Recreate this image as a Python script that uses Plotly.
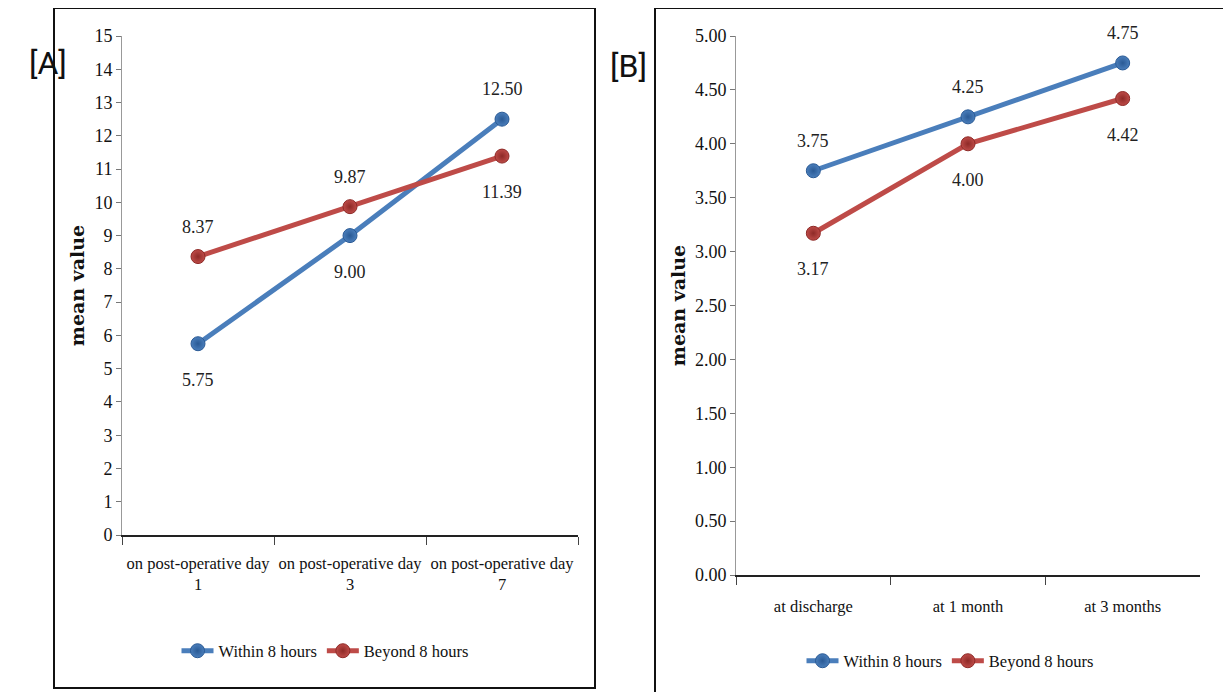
import plotly.graph_objects as go

# ---- data ----
cats_a = ["on post-operative day<br>1", "on post-operative day<br>3", "on post-operative day<br>7"]
within_a = [5.75, 9.00, 12.50]
beyond_a = [8.37, 9.87, 11.39]

cats_b = ["at discharge", "at 1 month", "at 3 months"]
within_b = [3.75, 4.25, 4.75]
beyond_b = [3.17, 4.00, 4.42]

series_names = ["Within 8 hours", "Beyond 8 hours"]
yticks_a = list(range(0, 16))
yticks_b = [0, 0.5, 1.0, 1.5, 2.0, 2.5, 3.0, 3.5, 4.0, 4.5, 5.0]

# label placement: +1 above the point, -1 below
lab_within_a = [-1, -1, 1]
lab_beyond_a = [1, 1, -1]
lab_within_b = [1, 1, 1]
lab_beyond_b = [-1, -1, -1]

# ---- style ----
W, H = 1231, 692
OX, OY = 8, 8   # page (body) margin of the html page
BLUE = "#4a7ebb"
RED = "#be4b48"
FONT = "Liberation Serif, serif"

def px(x):
    return (x - OX) / W

def py(y):
    return 1 - (y - OY) / H

fig = go.Figure()
annotations = []

def add_series(x, y, name, color, dark, xa, ya, legend, where):
    fig.add_trace(go.Scatter(
        x=x, y=y, name=name, mode="lines+markers",
        line=dict(color=color, width=5),
        marker=dict(size=14, color=color, symbol="circle",
                    line=dict(color=dark, width=1),
                    gradient=dict(type="radial", color=dark)),
        xaxis=xa, yaxis=ya, legend=legend, cliponaxis=False,
    ))
    for xi, yi, w in zip(x, y, where):
        annotations.append(dict(
            x=xi, y=yi, xref=xa, yref=ya, text=f"{yi:.2f}", showarrow=False,
            yshift=30 if w > 0 else -36,
            font=dict(family=FONT, size=18, color="#222")))

add_series(cats_a, within_a, series_names[0], BLUE, "#2a5a95", "x", "y", "legend", lab_within_a)
add_series(cats_a, beyond_a, series_names[1], RED, "#8e2a27", "x", "y", "legend", lab_beyond_a)
add_series(cats_b, within_b, series_names[0], BLUE, "#2a5a95", "x2", "y2", "legend2", lab_within_b)
add_series(cats_b, beyond_b, series_names[1], RED, "#8e2a27", "x2", "y2", "legend2", lab_beyond_b)

xcommon = dict(type="category", tickson="boundaries", ticks="outside", ticklen=8,
               tickcolor="#444", showline=True, linecolor="#222", linewidth=1.5,
               showgrid=False, zeroline=False, automargin=False,
               range=[-0.5, 2.5], tickangle=0,
               tickfont=dict(family=FONT, size=16.5, color="#111"))
ycommon = dict(ticks="outside", ticklen=5, tickcolor="#777", showline=True,
               linecolor="#999", linewidth=1, showgrid=False, zeroline=False,
               automargin=False,
               tickfont=dict(family=FONT, size=18, color="#111"),
               title=dict(text="<b>mean value</b>", standoff=4,
                          font=dict(family="DejaVu Serif, serif", size=19, color="#111")))

annotations += [
    dict(text="[A]", xref="paper", yref="paper", x=px(27), y=py(42),
         showarrow=False,
         font=dict(family="Liberation Sans Narrow, Roboto, sans-serif", size=32, color="#111")),
    dict(text="[B]", xref="paper", yref="paper", x=px(628), y=py(45),
         showarrow=False,
         font=dict(family="Liberation Sans Narrow, Roboto, sans-serif", size=32, color="#111")),
]

fig.update_layout(
    template="none",
    width=W, height=H, margin=dict(l=0, r=0, t=0, b=0, autoexpand=False),
    paper_bgcolor="white", plot_bgcolor="white",
    xaxis=dict(domain=[px(122), px(578)], anchor="y", ticklabelstandoff=12, **xcommon),
    yaxis=dict(domain=[py(535), py(36)], anchor="x", range=[0, 15],
               tickvals=yticks_a, ticktext=[str(v) for v in yticks_a], **ycommon),
    xaxis2=dict(domain=[px(736), px(1200)], anchor="y2", ticklabelstandoff=15, **xcommon),
    yaxis2=dict(domain=[py(575), py(36)], anchor="x2", range=[0, 5],
                tickvals=yticks_b, ticktext=[f"{v:.2f}" for v in yticks_b], **ycommon),
    legend=dict(orientation="h", x=px(325), y=py(651), xanchor="center", yanchor="middle",
                font=dict(family=FONT, size=16.5, color="#111"), itemwidth=32,
                bgcolor="rgba(0,0,0,0)", borderwidth=0),
    legend2=dict(orientation="h", x=px(950), y=py(661), xanchor="center", yanchor="middle",
                 font=dict(family=FONT, size=16.5, color="#111"), itemwidth=32,
                 bgcolor="rgba(0,0,0,0)", borderwidth=0),
    shapes=[
        dict(type="rect", xref="paper", yref="paper", x0=px(54), x1=px(595),
             y0=py(688), y1=py(8), line=dict(color="#111", width=2)),
        dict(type="rect", xref="paper", yref="paper", x0=px(655), x1=px(1245),
             y0=py(705), y1=py(8), line=dict(color="#111", width=2)),
    ],
    annotations=annotations,
)

fig.write_html("out.html")
